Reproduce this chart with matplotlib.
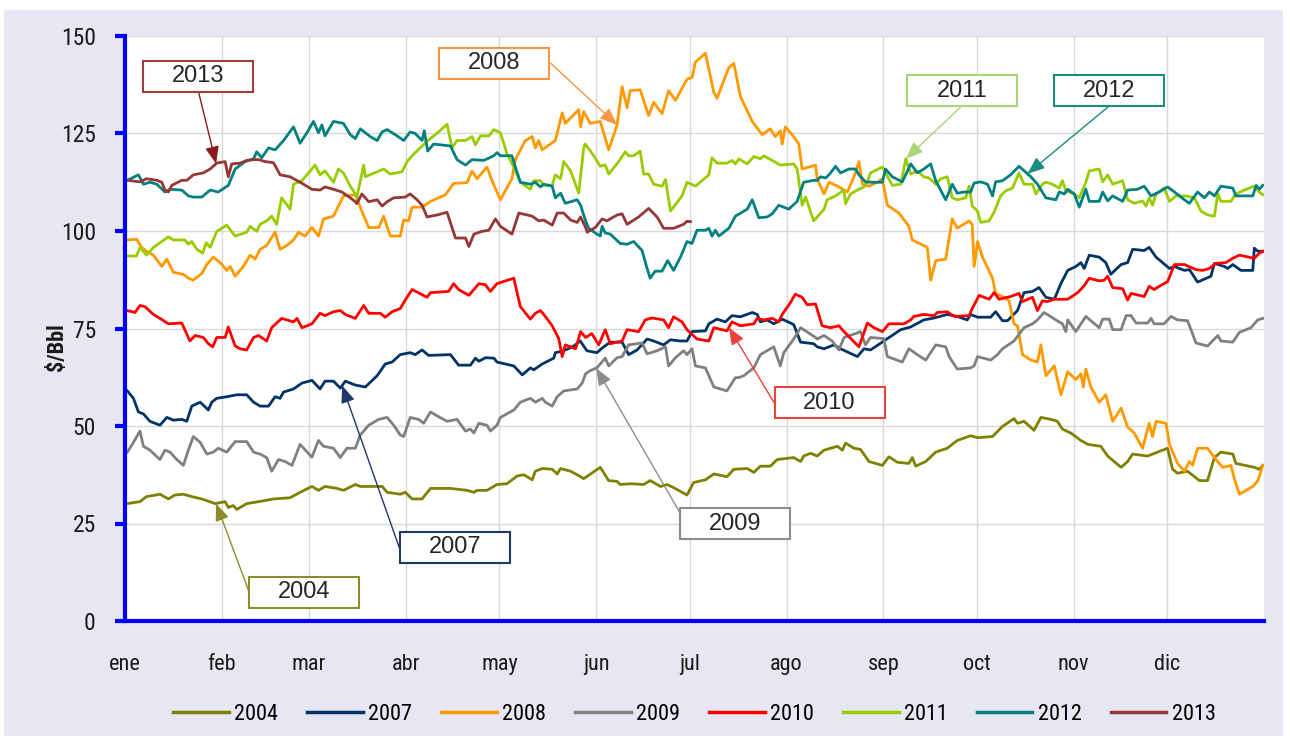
import numpy as np
import matplotlib
matplotlib.use('Agg')
import matplotlib.pyplot as plt
import matplotlib.font_manager as fm
from matplotlib.patches import Rectangle

# Precio diario del crudo ($/Bbl) por año, x = día del año
meses = ['ene', 'feb', 'mar', 'abr', 'may', 'jun', 'jul', 'ago', 'sep', 'oct', 'nov', 'dic']
inicio_mes = [0, 31, 59, 90, 120, 151, 181, 212, 243, 273, 304, 334]

dias_2004 = [0.75, 4.8, 6.9, 11.2, 13.9, 16, 18.7, 21.4, 24.6, 28.9, 32.1, 33.1, 34.7, 35.8, 39, 42.8, 47.6, 52.9, 56.1, 59.9, 62, 64.1, 67.9, 70, 73.8,
             75.4, 78.6, 82.4, 84, 88.2, 89.8, 92, 95.2, 97.9, 104.3, 109.6, 111.8, 112.8, 116, 119.2, 122.4, 125.7, 127.8, 130.5, 131.5, 133.7, 136.9, 138.5, 139.6, 142.8, 144.9,
             147, 152.3, 155, 157.7, 158.7, 161.9, 166.2, 168.3, 171.6, 173.7, 175.8, 180.1, 182.2, 186, 188.7, 192.9, 195.1, 199.4, 201.5, 203.6, 206.8, 209, 214.3, 216.5, 217.5,
             219.7, 221.8, 224, 228.3, 229.9, 230.9, 233.6, 235.7, 238.4, 242.7, 244.8, 247.5, 251.2, 252.3, 253.4, 256.6, 259.8, 263.5, 266.7, 271, 273.2, 278, 281.2, 284.9, 286, 288.1, 291.3,
             293.5, 296.7, 298.8, 300.4, 303.1, 306.3, 308.5, 312.7, 314.9, 319.2, 321.3, 322.9, 327.7, 334.1, 335.7, 337.3, 340.5, 342.7, 344.3, 346.9, 349.1, 351.2, 355, 356, 361.9, 363.5, 364.6]
brent_2004 = [30.1, 30.6, 31.9, 32.5, 31.3, 32.3, 32.5, 31.9, 31.3, 30.1, 30.6, 29.1, 29.6, 28.6, 30.1, 30.6, 31.3, 31.6, 33.0, 34.5, 33.5, 34.5, 34.0, 33.5, 35.0,
              34.5, 34.5, 34.5, 33.0, 32.5, 33.0, 31.3, 31.3, 34.0, 34.0, 33.5, 33.0, 33.5, 33.5, 35.0, 35.2, 37.2, 37.5, 36.2, 38.4, 39.1, 38.9, 37.7, 39.1, 38.4, 37.5,
              36.5, 39.4, 36.0, 35.8, 35.0, 35.2, 35.0, 36.0, 34.5, 35.0, 34.2, 32.3, 35.5, 36.2, 37.7, 37.0, 38.9, 39.1, 38.1, 39.7, 39.7, 41.4, 41.9, 40.9, 42.3,
              43.0, 42.3, 43.8, 44.8, 43.8, 45.6, 44.3, 44.0, 40.9, 39.9, 42.1, 40.7, 40.4, 41.9, 39.7, 40.9, 43.3, 44.3, 46.3, 47.5, 47.0, 47.3, 49.9, 51.9, 50.7, 51.2, 48.9,
              52.2, 51.7, 51.2, 49.2, 48.2, 46.3, 45.3, 44.8, 42.3, 39.4, 40.9, 42.8, 42.3, 44.3, 38.9, 37.9, 38.4, 37.0, 36.0, 36.0, 41.9, 43.3, 42.8, 40.4, 39.4, 38.9, 39.9]

dias_2007 = [0.75, 2.7, 4.3, 5.9, 8, 11.2, 13.4, 15.5, 18.2, 19.8, 21.4, 24.1, 26.7, 27.8, 29.4, 32.6, 35.8, 39, 41.2, 43.3, 46, 48.1, 49.7, 50.8, 54, 56.7, 59.9, 62.5, 64.1, 66.8, 69, 70.6, 73.8,
             77, 80.8, 83.4, 85.6, 88.2, 91.4, 93, 95.2, 97.3, 104.3, 106.9, 110.7, 112.3, 113.4, 115.5, 118.2, 119.2, 124.6, 127.3, 129.9, 131, 133.7, 137.4, 137.9, 140.6, 143.8, 145.9,
             148, 151.2, 153.4, 155.5, 159.3, 161.4, 164.1, 167.3, 169.4, 172.6, 174.8, 178, 180.1, 181.7, 186, 187.1, 189.7, 192.4, 194.5, 197.2, 201, 202.6, 203.6, 205.8, 207.9, 210.6, 214.3, 216.5, 220.7,
             221.8, 224, 227.2, 229.3, 234.7, 236.8, 238.9, 244.3, 248.6, 251.8, 256, 259.3, 263.5, 266.7, 269.9, 271, 273.2, 277.4, 279, 281.2, 282.8, 286, 288.1, 290.8, 292.9,
             295.1, 297.8, 299.9, 302.1, 304.7, 306.3, 307.4, 309, 312.2, 314.3, 315.9, 319.2, 321.3, 322.9, 326.6, 328.2, 330.4, 334.7, 336.3, 339.5, 341.1, 342.1, 343.7, 348, 349.1, 352.3, 353.4, 355, 357.6, 361.4, 361.9, 363, 364.6]
brent_2007 = [59.0, 57.1, 53.6, 53.1, 51.2, 50.2, 52.2, 51.5, 51.7, 51.2, 55.1, 56.1, 54.1, 56.1, 57.1, 57.5, 58.0, 58.0, 56.1, 55.1, 55.1, 57.5, 57.1, 58.7, 59.5, 61.0, 61.7, 59.5, 61.5, 61.5, 59.7, 61.5, 60.5,
              60.0, 62.9, 65.9, 66.4, 68.3, 68.8, 68.3, 69.5, 68.1, 68.3, 65.6, 65.6, 67.4, 66.6, 67.5, 67.4, 66.4, 65.4, 63.1, 64.9, 64.4, 65.9, 67.4, 68.8, 69.3, 70.5, 71.8,
              69.3, 68.8, 70.3, 71.5, 71.5, 68.3, 69.5, 72.3, 71.8, 70.8, 72.1, 71.8, 71.8, 74.2, 74.4, 76.2, 77.4, 76.7, 78.3, 78.0, 79.1, 78.6, 76.7, 77.2, 76.2, 77.4, 76.0, 71.5, 71.1,
              70.3, 69.8, 70.8, 69.8, 67.8, 69.8, 69.5, 72.4, 74.7, 75.4, 77.2, 77.7, 78.6, 78.1, 77.2, 78.6, 77.9, 77.9, 79.3, 77.0, 77.0, 79.6, 84.2, 84.5, 85.5,
              83.0, 82.5, 86.5, 89.9, 90.9, 91.9, 90.4, 93.8, 93.3, 91.9, 88.9, 91.4, 91.9, 95.3, 95.0, 95.8, 93.3, 90.4, 90.9, 89.9, 90.1, 88.9, 86.9, 88.4, 91.7, 90.9, 90.4, 91.4, 89.9, 89.9, 95.6, 94.8, 94.8]

dias_2008 = [0.75, 3.7, 5.3, 6.9, 9.1, 11.8, 13.4, 15.5, 18.7, 20.3, 21.9, 24.6, 26.2, 28.3, 30.5, 32.6, 33.7, 35.3, 37.9, 40.1, 41.7, 43.3, 45.4, 48.1, 49.7, 51.9, 54, 55.6, 57.7, 59.9, 62, 63.6, 66.8, 70, 73.8,
             75.9, 78.1, 81.3, 82.9, 85, 88.2, 89.3, 90.9, 92, 95.2, 97.9, 102.7, 105.3, 109.6, 111.2, 112.8, 116, 117.6, 120.3, 124, 125.1, 128.3, 130.5, 131.5, 132.6, 133.7, 137.9, 140.1, 141.1, 145.4, 146, 147,
             149.1, 152.3, 155, 157.7, 159.3, 160.9, 161.9, 165.1, 167.8, 169.4, 172.1, 174.2, 176.4, 180.1, 181.7, 182.8, 186, 188.7, 189.7, 193.5, 195.1, 197.2, 201, 204.2, 206.8, 208.4, 210, 210.6, 211.6, 214.3, 215.9, 217, 221.3,
             221.8, 224, 225.6, 228.3, 231.5, 233.6, 235.2, 236.3, 238.4, 241.1, 242.7, 244.3, 248, 251.2, 252.3, 257.1, 258.2, 259.8, 263, 265.1, 266.7, 270.5, 271.5, 272.1, 273.2, 274.8, 278, 279, 281.7, 283.3, 284.9, 286, 287.6, 290.3, 292.4, 293.5,
             295.1, 297.8, 299.9, 302.1, 304.7, 306.3, 307.1, 307.9, 309.5, 312.2, 314.3, 316.5, 319.2, 321.3, 323.4, 326.1, 328.2, 329.3, 330.4, 333.6, 334.7, 337.3, 339.5, 341.1, 342.1, 343.7, 346.9, 349.6, 351.8, 354.4, 355.5, 357.1, 361.4, 363, 364.6]
brent_2008 = [97.7, 97.9, 95.8, 94.8, 93.8, 90.9, 92.8, 89.4, 88.9, 87.9, 87.4, 89.1, 91.4, 93.3, 91.9, 89.9, 90.9, 88.4, 90.9, 93.8, 92.8, 95.3, 96.3, 99.7, 95.3, 96.3, 97.7, 99.7, 98.7, 100.9, 98.7, 103.1, 103.8, 109.0, 109.3,
              105.1, 100.9, 100.9, 103.8, 98.7, 98.7, 102.8, 102.6, 106.1, 106.1, 107.6, 109.3, 112.2, 112.4, 115.4, 113.4, 116.4, 112.9, 108.0, 113.4, 118.3, 123.2, 124.2, 121.3, 123.2, 120.8, 123.2, 130.3, 127.6, 131.1, 126.7, 130.6,
              127.6, 128.1, 120.8, 127.2, 137.0, 131.6, 136.0, 136.2, 129.6, 133.0, 130.1, 136.0, 133.5, 138.9, 139.4, 143.3, 145.6, 135.5, 134.0, 141.9, 143.0, 134.5, 128.1, 124.7, 126.2, 124.2, 125.7, 122.3, 126.7, 124.2, 122.3, 115.9, 116.9,
              113.4, 109.5, 112.5, 111.5, 110.0, 113.9, 117.8, 112.0, 111.5, 112.5, 113.4, 106.6, 104.6, 101.2, 97.7, 95.8, 87.4, 92.4, 92.8, 103.1, 100.7, 102.6, 101.7, 90.9, 97.3, 93.3, 87.9, 84.0, 83.0, 82.1, 76.2, 75.7, 68.3, 66.9, 66.4, 70.8,
              62.9, 65.4, 58.0, 63.9, 61.9, 63.4, 60.0, 64.6, 60.0, 56.1, 58.0, 51.2, 54.6, 49.7, 48.2, 44.3, 50.7, 47.3, 51.2, 50.7, 45.3, 40.4, 38.4, 40.9, 39.9, 44.3, 44.3, 41.4, 39.4, 39.9, 36.5, 32.5, 34.5, 35.9, 39.9]

dias_2009 = [0.75, 2.7, 4.8, 5.9, 8, 11.2, 12.8, 14.4, 16.6, 18.7, 20.3, 21.9, 24.1, 26.2, 28.3, 29.9, 32.6, 35.3, 39, 41.2, 43.3, 45.4, 47, 49.2, 51.3, 53.5, 56.1, 59.9, 62, 63.6, 66.8, 69, 71.1, 73.8,
             75.4, 78.1, 81.3, 84, 86.1, 88.2, 89.3, 91.4, 94.1, 95.7, 97.9, 100, 103.2, 106.4, 109.1, 110.7, 111.8, 113.4, 116, 117.1, 119.2, 120.3, 124.6, 126.7, 129.9, 131.5, 133.7, 134.7, 136.9, 138.5, 140.6, 144.9, 146.5, 147.6,
             149.1, 151.2, 153.9, 155, 157.7, 159.3, 161.4, 165.7, 167.3, 170.5, 173.2, 174.2, 176.4, 179, 180.1, 181.7, 182.8, 186, 188.7, 192.9, 195.6, 196.7, 198.3, 201.5, 203.6, 207.9, 210, 211.1, 214.3, 216.5, 221.3,
             221.8, 224, 226.6, 228.8, 230.4, 234.1, 235.7, 237.3, 238.9, 243.2, 244.3, 249.1, 251.2, 253.9, 256.6, 259.8, 263, 264.1, 266.7, 271, 272.1, 273.2, 277.4, 279.6, 281.2, 284.9, 288.1, 290.8, 292.4, 294.5,
             295.6, 298.3, 300.4, 301.5, 302.1, 304.7, 307.9, 312.2, 313.3, 315.4, 316.5, 319.2, 320.8, 322.4, 324, 327.7, 328.8, 329.8, 333, 335.2, 337.3, 340.5, 343.2, 346.9, 350.2, 351.2, 355, 357.1, 360.8, 363, 364.6]
brent_2009 = [43.3, 45.8, 48.7, 44.8, 43.8, 41.4, 43.8, 43.3, 41.4, 39.9, 43.8, 47.3, 45.8, 42.8, 43.3, 44.3, 43.3, 46.0, 46.0, 43.3, 42.8, 41.9, 38.4, 41.4, 40.9, 39.9, 45.3, 42.0, 46.3, 44.8, 44.3, 41.9, 44.3, 44.3,
              47.7, 50.2, 51.7, 52.2, 50.2, 47.7, 47.3, 52.2, 51.7, 50.7, 53.6, 52.6, 51.2, 51.7, 48.7, 49.2, 48.2, 50.7, 50.2, 48.7, 50.2, 52.2, 54.1, 56.1, 57.1, 56.1, 57.1, 56.1, 55.1, 57.5, 59.0, 59.5, 61.0, 63.4,
              64.2, 64.9, 67.4, 65.4, 67.5, 67.8, 70.8, 71.3, 68.5, 69.3, 70.3, 65.4, 67.5, 69.3, 68.3, 69.8, 65.4, 64.9, 60.0, 59.0, 62.4, 62.4, 62.9, 64.9, 68.3, 70.3, 65.4, 68.8, 72.3, 75.2, 72.7,
              72.3, 73.2, 71.8, 69.5, 72.7, 73.7, 74.2, 70.8, 72.7, 72.4, 67.8, 66.4, 69.8, 68.3, 66.9, 70.8, 70.3, 67.8, 64.6, 64.9, 65.4, 67.8, 66.9, 68.3, 69.8, 71.8, 75.2, 76.2, 77.2, 79.1,
              78.6, 77.2, 76.2, 74.2, 77.2, 74.2, 78.1, 75.2, 77.4, 77.4, 74.7, 74.7, 78.3, 78.3, 76.4, 76.4, 77.6, 76.2, 76.2, 78.1, 77.2, 77.0, 71.3, 70.5, 73.2, 71.8, 71.5, 74.0, 75.2, 77.2, 77.6]

dias_2010 = [0.75, 3.2, 4.8, 6.4, 9.1, 11.2, 13.9, 18.2, 20.8, 22.5, 25.1, 26.7, 28.1, 29.4, 32.1, 33.1, 35.3, 36.9, 39, 41.2, 42.8, 45.4, 47, 50.2, 54, 55.1, 56.7, 59.9, 62.5, 64.1, 66.8, 69, 70.6, 73.8,
             76.5, 78.1, 81.8, 83.4, 85.6, 88.2, 89.8, 92, 96.8, 97.9, 103.7, 105.3, 106.9, 110.2, 111.8, 113.4, 115.5, 117.1, 119.2, 124.6, 125.7, 126.7, 129.9, 131.5, 133.1, 134.2, 136.9, 139, 140.1, 141.1, 144.4, 146, 147.6,
             149.6, 151.8, 153.9, 155.5, 159.3, 160.9, 164.6, 166.7, 168.9, 172.6, 174.2, 175.8, 178.5, 180.1, 183.3, 187.1, 188.7, 192.9, 194.5, 197.2, 201.5, 202.6, 204.7, 207.4, 209.5, 210.6, 213.2, 214.8, 217, 218.6, 221.3,
             223.4, 226.1, 228.8, 230.4, 235.2, 237.9, 240, 242.7, 244.8, 249.6, 251.8, 252.8, 256, 259.3, 260.3, 263.5, 265.7, 270.5, 271.5, 273.7, 276.9, 278.5, 280.1, 283.8, 286.5, 287.6, 290.8, 292.4, 294,
             295.6, 297.8, 302.1, 305.3, 307.4, 309, 312.2, 313.8, 314.9, 316.5, 319.7, 321.3, 322.4, 326.6, 328.2, 329.8, 331.4, 334.1, 336.3, 339.5, 343.2, 345.3, 347.5, 349.6, 352.8, 355, 357.1, 361.9, 363.5, 364.6]
brent_2010 = [79.6, 79.1, 80.9, 80.6, 78.6, 77.6, 76.2, 76.4, 71.8, 73.2, 72.7, 71.1, 70.3, 72.7, 72.7, 75.4, 70.5, 69.8, 69.5, 72.7, 73.2, 71.8, 75.2, 77.6, 76.7, 77.6, 75.2, 76.2, 78.9, 78.3, 79.3, 79.6, 78.6, 77.6,
              80.9, 78.9, 78.9, 77.9, 79.3, 80.1, 82.3, 85.0, 83.0, 84.2, 84.5, 86.5, 85.0, 83.5, 85.0, 86.5, 86.2, 84.5, 86.5, 87.9, 84.0, 80.6, 77.4, 78.9, 79.6, 78.6, 75.7, 72.4, 67.8, 70.8, 69.8, 74.2, 72.7,
              73.7, 70.8, 74.7, 71.1, 71.8, 74.7, 74.2, 77.2, 77.7, 77.2, 75.2, 78.0, 76.7, 74.7, 72.3, 71.8, 75.2, 74.4, 76.7, 75.7, 76.2, 77.6, 77.2, 77.6, 76.7, 78.6, 81.6, 83.8, 83.0, 81.1, 81.3,
              75.7, 75.2, 75.7, 74.2, 70.3, 76.4, 75.2, 74.2, 76.2, 76.2, 77.2, 78.1, 78.6, 78.3, 79.1, 79.3, 78.1, 78.3, 80.1, 83.5, 82.5, 84.2, 82.5, 83.2, 84.0, 81.9, 83.0, 79.6, 82.1,
              81.9, 82.5, 82.5, 84.2, 86.0, 87.9, 87.2, 87.4, 88.4, 85.5, 85.2, 82.3, 84.0, 83.2, 85.8, 85.0, 85.8, 87.0, 91.4, 91.4, 90.1, 89.9, 90.4, 91.7, 91.9, 93.0, 93.8, 93.0, 94.3, 94.8]

dias_2011 = [0.75, 3.7, 4.8, 6.9, 9.1, 11.8, 13.9, 15.5, 19.2, 20.3, 21.4, 23, 24.9, 26, 27.3, 29.4, 32.6, 35.3, 39, 40.1, 42.2, 43.3, 45.4, 47, 48.6, 50.2, 52.9, 54, 56.7, 58.8, 60.9, 62.5, 64.1, 66.8, 68.4, 70, 72.2, 73.8,
             74.3, 76.5, 77, 80.8, 82.9, 85, 88.8, 90.4, 92, 94.6, 96.8, 100.5, 103.2, 104.8, 106.4, 109.1, 111.2, 112.3, 113.9, 116.6, 118.2, 120.3, 122.4, 124.6, 126.7, 129.9, 131, 133.1, 134.2, 136.9, 137.9, 139.6, 140.6, 142.8, 145.4, 147,
             147.5, 150.2, 152.3, 153.9, 155, 158.2, 160.3, 161.4, 163, 165.1, 166.2, 167.8, 169.4, 172.1, 173.2, 174.8, 178.5, 180.1, 182.8, 187.1, 188.1, 189.7, 192.9, 194.5, 195.6, 196.7, 199.4, 201.5, 203.6, 204.7, 210, 214.3, 215.4, 217, 218.1, 220.7,
             221.3, 224, 225, 227.7, 230.4, 230.9, 232.5, 234.7, 236.8, 237.9, 238.9, 242.7, 245.9, 248.6, 250.2, 251.8, 253.9, 256, 257.6, 259.8, 261.4, 263.5, 265.1, 266.7, 269.4, 270.5, 271.5, 273.2, 274.2, 276.9, 278.5, 280.6, 282.2, 284.4, 286.5, 288.1, 290.8, 291.9, 294,
             295.1, 297.2, 299.4, 300.4, 301.5, 304.2, 305.8, 307.9, 309, 312.2, 313.3, 314.9, 316.5, 319.7, 321.3, 323.4, 326.1, 327.2, 328.2, 329.3, 330.4, 333, 334.7, 336.8, 340, 342.7, 344.8, 347, 349.1, 350.2, 351.2, 354.4, 356, 358.7, 361.9, 363.5, 364.6]
brent_2011 = [93.6, 93.6, 95.8, 93.8, 95.8, 97.3, 98.5, 97.7, 97.7, 96.6, 97.3, 95.3, 94.3, 97.0, 95.8, 99.9, 101.5, 98.7, 99.7, 101.2, 99.9, 101.7, 102.6, 103.8, 101.7, 108.5, 105.6, 112.0, 112.9, 114.9, 116.9, 114.4, 115.4, 112.5, 115.9, 114.9, 111.5, 109.5,
              108.7, 116.9, 113.9, 115.2, 115.9, 114.6, 115.2, 117.8, 119.3, 121.3, 123.0, 125.4, 127.4, 121.3, 123.2, 123.2, 124.2, 122.1, 124.4, 124.4, 126.0, 125.2, 119.8, 116.4, 112.5, 110.7, 112.9, 112.9, 111.7, 111.7, 114.4, 113.4, 117.8, 115.4, 109.7, 121.3,
              122.3, 119.3, 116.6, 116.9, 114.6, 117.8, 120.3, 119.3, 119.3, 120.5, 114.6, 114.6, 112.0, 111.5, 113.2, 105.1, 109.0, 112.5, 111.5, 114.4, 118.8, 117.4, 117.4, 118.1, 117.2, 118.5, 117.2, 119.1, 118.5, 119.3, 116.9, 117.2, 115.9, 106.6, 108.7, 102.6,
              103.1, 105.6, 108.0, 109.0, 110.5, 107.0, 109.5, 110.5, 111.3, 112.6, 114.9, 116.4, 111.7, 112.0, 118.5, 114.6, 115.4, 113.9, 113.6, 112.0, 113.4, 113.9, 108.5, 108.0, 108.5, 111.5, 106.4, 105.1, 102.2, 102.6, 104.8, 109.0, 110.3, 111.0, 114.9, 112.0, 112.0, 109.5, 112.0,
              112.5, 112.0, 111.0, 112.9, 110.3, 109.5, 108.5, 112.5, 115.4, 115.9, 112.6, 114.4, 112.0, 112.9, 108.0, 107.1, 107.7, 106.4, 108.5, 106.6, 109.5, 111.0, 107.6, 109.0, 109.0, 108.5, 105.1, 104.1, 103.8, 109.5, 107.6, 107.6, 109.5, 110.5, 111.5, 110.0, 109.3]

dias_2012 = [0.75, 4.3, 5.9, 8, 10.2, 12.8, 14.4, 18.2, 20.3, 21.9, 24.6, 27.3, 29.9, 33.1, 35.3, 38.5, 41.2, 42.2, 43.8, 46, 48.1, 50.8, 54, 56.1, 58.3, 60.4, 62, 63.1, 64.1, 66.8, 70, 72.2, 73.8,
             75.4, 78.6, 80.8, 82.4, 84, 87.2, 89.3, 91.4, 93, 95.2, 95.9, 97, 98.9, 104.3, 106.4, 109.1, 111.2, 115, 118.2, 119.2, 120.3, 124, 125.1, 126.7, 129.9, 131.5, 133.1, 134.2, 136.9, 137.9, 139.6, 141.1, 144.9, 146, 147.6,
             148.6, 150.7, 152.3, 152.9, 153.9, 155.5, 158.7, 160.9, 163, 165.7, 167.3, 168.3, 169.9, 172.1, 173.9, 175.8, 178, 180.1, 181.7, 183.3, 186, 187.1, 188.1, 189.2, 190.3, 193.5, 195.6, 199.4, 201, 203.1, 205.8, 207.4, 209.5, 211.1, 212.7, 215.4, 217.5, 220.7,
             221.8, 222.9, 224.5, 225.6, 227.7, 229.3, 232, 234.1, 235.2, 237.3, 239.5, 242.7, 243.7, 245.9, 249.1, 251.8, 253.9, 256, 258.2, 259.8, 263, 265.1, 266.7, 268.9, 271, 272.1, 274.2, 276.4, 278, 279, 281.2, 283.8, 286.5, 290.3, 292.4,
             295.1, 298.3, 299.4, 301, 302.1, 304.2, 305.8, 307.9, 309, 312.2, 313.3, 314.9, 316.5, 319.7, 321.3, 324.5, 326.6, 328.8, 331.4, 334.1, 336.3, 339.5, 341.1, 343.7, 345.9, 347.5, 349.1, 351.2, 355, 356, 361.4, 362.5, 363.5, 364.6]
brent_2012 = [113.0, 114.4, 112.0, 112.5, 112.0, 110.0, 110.7, 110.5, 109.0, 108.7, 108.7, 110.5, 110.0, 111.7, 115.9, 117.8, 118.5, 120.3, 118.8, 121.3, 120.8, 123.2, 126.7, 122.5, 125.2, 128.1, 125.2, 127.2, 124.4, 128.1, 127.6, 124.7, 123.7,
              126.2, 124.2, 123.2, 125.4, 126.0, 124.4, 123.2, 125.4, 125.0, 123.2, 125.7, 120.5, 122.3, 121.8, 118.3, 116.9, 118.3, 118.1, 119.3, 120.1, 119.3, 119.3, 116.4, 112.5, 112.0, 112.5, 111.3, 112.0, 111.5, 108.5, 109.7, 107.1, 108.0, 106.6, 102.6,
              100.7, 99.5, 98.7, 101.2, 99.5, 99.2, 96.8, 96.6, 97.3, 95.0, 90.4, 87.9, 89.7, 89.7, 92.4, 89.9, 93.3, 97.3, 96.8, 100.2, 100.2, 100.7, 98.7, 100.2, 98.7, 100.7, 103.8, 105.6, 108.0, 103.4, 103.6, 104.4, 106.6, 106.1, 105.6, 107.6, 112.5, 113.0,
              113.0, 113.9, 113.6, 114.4, 116.6, 114.9, 115.9, 115.9, 114.4, 112.6, 112.5, 112.5, 115.9, 113.9, 112.6, 117.2, 114.9, 115.9, 117.2, 112.9, 108.0, 112.0, 109.7, 110.0, 110.0, 112.3, 112.6, 112.0, 109.0, 112.6, 112.9, 114.4, 116.6, 113.9, 112.0,
              108.5, 108.0, 110.0, 109.5, 110.7, 109.5, 106.1, 110.7, 107.6, 107.6, 110.0, 107.7, 109.0, 107.6, 110.5, 110.7, 111.5, 109.0, 110.0, 111.3, 110.0, 108.0, 107.1, 110.0, 108.5, 110.0, 109.0, 111.5, 111.0, 109.0, 109.0, 111.7, 110.7, 111.7]

dias_2013 = [0.75, 4.8, 6.9, 10.2, 11.8, 12.8, 13.9, 15, 18.2, 19.8, 21.9, 25.1, 27.3, 29.4, 32.1, 33.1, 34.2, 36.9, 39, 41.2, 42.8, 44.9, 47.6, 49.7, 52.9, 56.1, 59.9, 62.5, 64.1, 66.8, 69.5, 72.2, 73.8,
             74.3, 75.9, 78.1, 80.8, 82.4, 84, 86.1, 89.8, 91.4, 93.6, 95.2, 96.8, 100, 103.2, 105.9, 109.1, 110.2, 111.8, 114.4, 116.6, 118.7, 120.3, 124, 126.2, 130.5, 132.6, 134.2, 136.9, 138.5, 140.6, 142.8, 144.9, 146, 147.6,
             148.1, 150.7, 152.9, 154.4, 157.7, 159.3, 160.9, 164.6, 167.8, 170.5, 172.6, 175.8, 179, 180.1, 181.2]
brent_2013 = [113.0, 112.6, 113.4, 113.0, 112.5, 110.5, 110.0, 111.7, 113.0, 113.0, 114.4, 114.9, 115.9, 117.4, 117.8, 113.9, 117.2, 117.4, 118.1, 118.3, 118.3, 117.8, 117.5, 114.4, 113.9, 112.5, 110.7, 110.5, 111.3, 110.7, 110.0, 108.5, 107.5,
              107.0, 109.5, 107.5, 108.0, 106.4, 107.5, 108.5, 108.7, 109.5, 108.0, 106.6, 103.6, 104.1, 104.8, 98.2, 98.2, 96.0, 99.2, 99.9, 100.2, 103.1, 101.2, 99.2, 104.6, 103.8, 102.6, 102.8, 101.5, 104.6, 104.6, 102.8, 102.2, 103.6, 100.9,
              99.7, 100.9, 103.1, 102.6, 104.1, 104.4, 101.7, 103.6, 105.8, 103.6, 100.7, 100.7, 101.7, 102.5, 102.4]

anios = ['2004', '2007', '2008', '2009', '2010', '2011', '2012', '2013']
dias = [dias_2004, dias_2007, dias_2008, dias_2009, dias_2010, dias_2011, dias_2012, dias_2013]
precios = [brent_2004, brent_2007, brent_2008, brent_2009, brent_2010, brent_2011, brent_2012, brent_2013]
colores = ['#808000', '#003366', '#FF9900', '#808080', '#FF0000', '#99CC00', '#008080', '#953735']

# llamadas: año, centro de la caja (día, valor), origen de la flecha, día señalado, color caja, color flecha
llamadas = [
    ('2013', 23.4, 139.7, 23.5, 135.9, 29.2, '#A0403C', '#8B1C1C'),
    ('2008', 118.3, 143.0, 136.3, 143.1, 157.7, '#F79646', '#F79646'),
    ('2011', 268.3, 136.0, 268.1, 132.0, 250.2, '#A9D578', '#A9D578'),
    ('2012', 315.3, 136.0, 315.3, 132.0, 289.2, '#1A8C82', '#1A8C82'),
    ('2007', 105.7, 18.9, 87.9, 18.8, 69.6, '#1F3864', '#1F3864'),
    ('2004', 57.4, 7.4, 39.8, 7.4, 29.2, '#8C8C2A', '#8C8C2A'),
    ('2009', 195.6, 24.9, 177.8, 27.8, 151.0, '#8C8C8C', '#8C8C8C'),
    ('2010', 225.8, 56.0, 208.0, 56.0, 193.5, '#E8443A', '#E8443A'),
]

nombres = {f.name for f in fm.fontManager.ttflist}
estrecha = 'DejaVu Sans'
for cand in ['Liberation Sans Narrow', 'Roboto Condensed', 'Open Sans Condensed', 'Noto Sans Condensed']:
    if cand in nombres:
        estrecha = cand
        break
estira = 'condensed' if estrecha == 'DejaVu Sans' else 'normal'

fig = plt.figure(figsize=(12.9, 7.36), dpi=100)
fig.patch.set_facecolor('white')
fondo = Rectangle((4 / 1290, 0), 1279 / 1290, 726 / 736, transform=fig.transFigure,
                  facecolor='#E7E7F3', edgecolor='none', zorder=-10)
fig.patches.append(fondo)

ax = fig.add_axes([125 / 1290, 1 - 621 / 736, 1139 / 1290, 585 / 736])
ax.set_zorder(1)
ax.set_facecolor('white')

for anio, d, p, c in zip(anios, dias, precios, colores):
    ax.plot(d, p, color=c, lw=2.0, label=anio, solid_joinstyle='round', zorder=3)

ax.set_xlim(0, 365)
ax.set_ylim(0, 150)
ax.set_yticks(np.arange(0, 151, 25))
ax.set_xticks(inicio_mes)
ax.set_xticklabels(meses)
ax.grid(True, color='#D9D9D9', lw=1.0, zorder=0)
ax.set_axisbelow(True)

for lado in ['top', 'right']:
    ax.spines[lado].set_visible(False)
for lado in ['left', 'bottom']:
    ax.spines[lado].set_color('#0000FF')
    ax.spines[lado].set_linewidth(3)
    ax.spines[lado].set_zorder(5)

ax.tick_params(axis='y', direction='out', length=7, width=3, color='#0000FF', pad=14)
ax.tick_params(axis='x', length=0, pad=24)
for t in ax.get_yticklabels():
    t.set_fontfamily(estrecha)
    t.set_fontstretch(estira)
    t.set_fontsize(17)
    t.set_color('#1A1A1A')
for t in ax.get_xticklabels():
    t.set_fontfamily(estrecha)
    t.set_fontstretch(estira)
    t.set_fontsize(16)
    t.set_color('#1A1A1A')

fig.text(57 / 1290, 1 - 347 / 736, '$/Bbl', rotation=90, ha='center', va='center',
         fontsize=16, fontweight='bold', family=estrecha, stretch=estira, color='#1A1A1A')

# cajas con flecha hacia cada serie
ancho, alto = 35.3, 8.0
for anio, cx, cy, ox, oy, dia_obj, c_caja, c_flecha in llamadas:
    i = anios.index(anio)
    y_obj = np.interp(dia_obj, dias[i], precios[i])
    ax.annotate('', xy=(dia_obj, y_obj), xytext=(ox, oy),
                arrowprops=dict(arrowstyle='-|>,head_length=0.7,head_width=0.28', color=c_flecha,
                                lw=1.0, shrinkA=0, shrinkB=0, mutation_scale=15), zorder=6)
    ax.add_patch(Rectangle((cx - ancho / 2, cy - alto / 2), ancho, alto, facecolor='white',
                           edgecolor=c_caja, lw=1.5, zorder=7, clip_on=False))
    ax.text(cx, cy, anio, ha='center', va='center', fontsize=17, color='#262626',
            family='Liberation Sans', zorder=8)

leg = ax.legend(loc='center', bbox_to_anchor=(0.5, (714 - 621) / -585.0), ncol=8, frameon=False,
                handlelength=2.5, handletextpad=0.25, columnspacing=1.3,
                prop=fm.FontProperties(family=estrecha, stretch=estira, size=16))
for linea in leg.get_lines():
    linea.set_linewidth(2.5)

fig.savefig('out.png', dpi=100, facecolor=fig.get_facecolor())
